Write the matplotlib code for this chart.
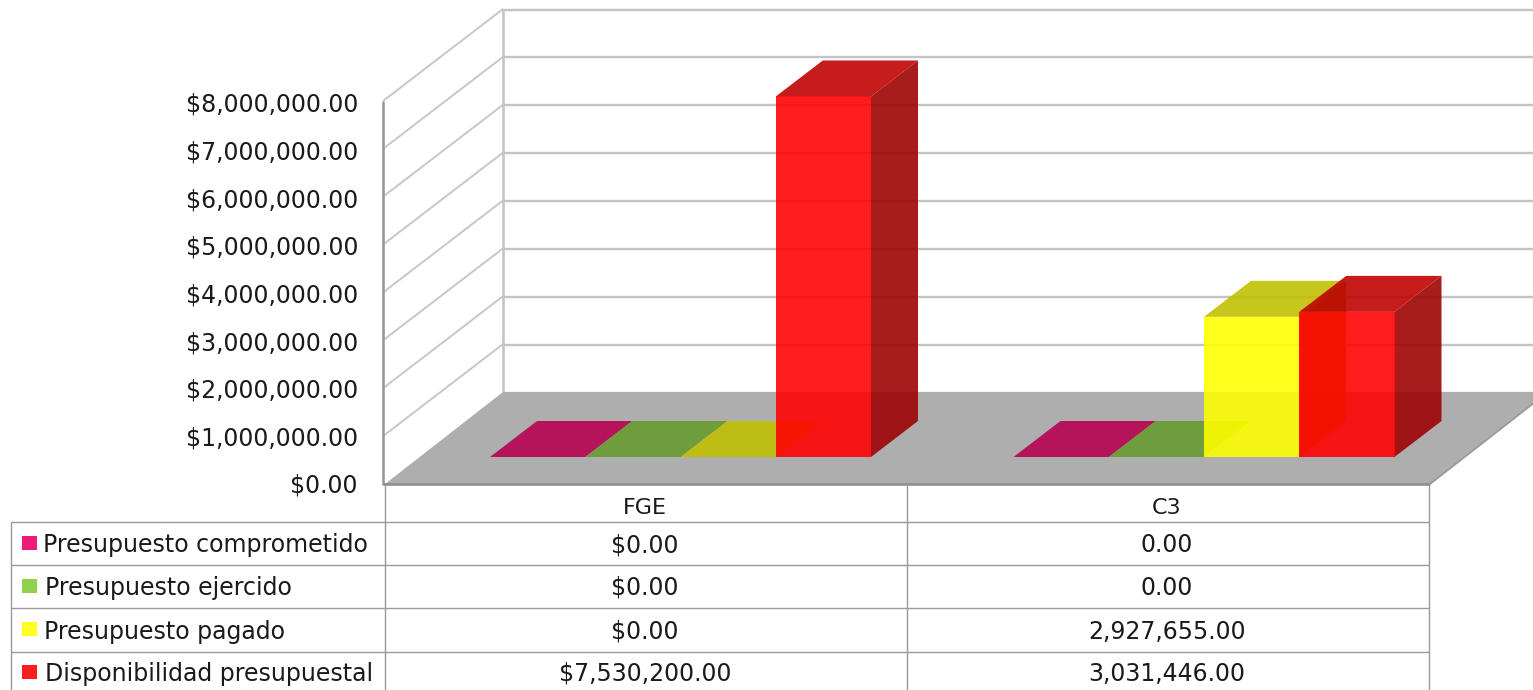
import matplotlib
matplotlib.use("Agg")
import matplotlib.pyplot as plt
from matplotlib.patches import Polygon, Rectangle
from matplotlib.transforms import Affine2D
from matplotlib.colors import to_rgb

categories = ["FGE", "C3"]
series_names = ["Presupuesto comprometido", "Presupuesto ejercido", "Presupuesto pagado", "Disponibilidad presupuestal"]
comprometido = [0.0, 0.0]
ejercido = [0.0, 0.0]
pagado = [0.0, 2927655.0]
disponibilidad = [7530200.0, 3031446.0]
series_values = [comprometido, ejercido, pagado, disponibilidad]
table_fge = ["$0.00", "$0.00", "$0.00", "$7,530,200.00"]
table_c3 = ["0.00", "0.00", "2,927,655.00", "3,031,446.00"]
tick_values = [0, 1e6, 2e6, 3e6, 4e6, 5e6, 6e6, 7e6, 8e6]
colors = ["#F4016B", "#89CE3D", "#FFFF00", "#FF0000"]
legend_colors = ["#EE1A7A", "#92D050", "#FFFF22", "#FF1C1C"]

W, H = 1533, 690
FONT = "DejaVu Sans"
FS = 17
TXT = "#1a1a1a"
PX_PER_VAL = 47.875 / 1e6
PX_PER_CAT = 523.5
CAT0 = 680.5
BASE = 457

fig = plt.figure(figsize=(W / 100, H / 100), dpi=100)
ax = fig.add_axes([0, 0, 1, 1])
ax.set_xlim(-CAT0 / PX_PER_CAT, (W - CAT0) / PX_PER_CAT)
ax.set_ylim((BASE - H) / PX_PER_VAL, BASE / PX_PER_VAL)
ax.axis("off")

# furniture, in reference pixel coordinates
px = Affine2D().scale(1 / W, -1 / H).translate(0, 1) + fig.transFigure

def line(xs, ys, color, lw, z=1):
    ax.plot(xs, ys, color=color, lw=lw * 0.72, transform=px, zorder=z,
            solid_capstyle="butt", clip_on=False)

FX, FY0, DX, DY = 385, 484, 118, 92
ax.add_patch(Polygon([(FX, FY0), (1430, FY0), (1430 + DX, FY0 - DY), (FX + DX, FY0 - DY)],
                     closed=True, fc="#AEAEAE", ec="none", transform=px, zorder=2))
for v in tick_values:
    y = FY0 - DY - v * PX_PER_VAL + 0.5
    line([FX + DX, W], [y, y], "#C4C4C4", 2.4)
for v in tick_values[1:]:
    y = FY0 - v * PX_PER_VAL
    line([FX - 2, FX + DX], [y, y - DY], "#C8C8C8", 2.0)
line([FX + DX, FX + DX], [FY0 - DY, FY0 - DY - 8e6 * PX_PER_VAL], "#C4C4C4", 2.6)
line([FX - 2, FX - 2], [FY0 - 8e6 * PX_PER_VAL, FY0 + 1], "#999999", 2.6, 3)
line([FX - 2, 1430], [FY0, FY0], "#8E8E8E", 2.6, 3)
line([1430, 1430 + DX], [FY0, FY0 - DY], "#9A9A9A", 1.8, 3)

# bars
w = 95.25 / PX_PER_CAT
dx = 47 / PX_PER_CAT
dy = 36 / PX_PER_VAL
ALPHA = 0.89
z = 4
for g in range(len(categories)):
    for i, vals in enumerate(series_values):
        x0 = g + (i - 2) * w
        x1 = x0 + w
        v = vals[g]
        c = to_rgb(colors[i])
        top = tuple(k * 0.75 for k in c)
        side = tuple(k * 0.615 for k in c)
        ax.add_patch(Polygon([(x0, v), (x1, v), (x1 + dx, v + dy), (x0 + dx, v + dy)],
                             closed=True, fc=top, ec="none", alpha=ALPHA, zorder=z))
        z += 1
        if v > 0:
            ax.add_patch(Polygon([(x1, 0), (x1 + dx, dy), (x1 + dx, v + dy), (x1, v)],
                                 closed=True, fc=side, ec="none", alpha=ALPHA, zorder=z))
            z += 1
            ax.add_patch(Rectangle((x0, 0), w, v, fc=c, ec="none", alpha=ALPHA, zorder=z))
            z += 1

# y tick labels
for v in tick_values:
    ax.text(358, FY0 + 2 - v * PX_PER_VAL * 0.995, f"${v:,.2f}", transform=px, ha="right", va="center",
            fontsize=FS, family=FONT, color=TXT, zorder=50)

# data table
GRID = "#9A9A9A"
rows = [522, 565, 608, 652]
for y in rows:
    line([11, 1429], [y, y], GRID, 1.4, 30)
line([11, 11], [522, H], GRID, 1.4, 30)
for x in [385, 907, 1429]:
    line([x, x], [485, H], GRID, 1.4, 30)

col_x = [645, 1167]
for k, name in enumerate(categories):
    ax.text(col_x[k], 508, name, transform=px, ha="center", va="center",
            fontsize=FS - 1, family=FONT, color=TXT, zorder=50)
row_y = [545, 588, 632, 674]
swatch_y = [536, 579, 622, 665]
label_x = [43, 45, 44, 45]
for i, name in enumerate(series_names):
    ax.add_patch(Rectangle((22, swatch_y[i]), 15, 14, fc=legend_colors[i], ec="none",
                           transform=px, zorder=40))
    ax.text(label_x[i], row_y[i], name, transform=px, ha="left", va="center",
            fontsize=FS, family=FONT, color=TXT, zorder=50)
    ax.text(col_x[0], row_y[i], table_fge[i], transform=px, ha="center", va="center",
            fontsize=FS, family=FONT, color=TXT, zorder=50)
    ax.text(col_x[1], row_y[i], table_c3[i], transform=px, ha="center", va="center",
            fontsize=FS, family=FONT, color=TXT, zorder=50)

fig.savefig("out.png", dpi=100, facecolor="white")
